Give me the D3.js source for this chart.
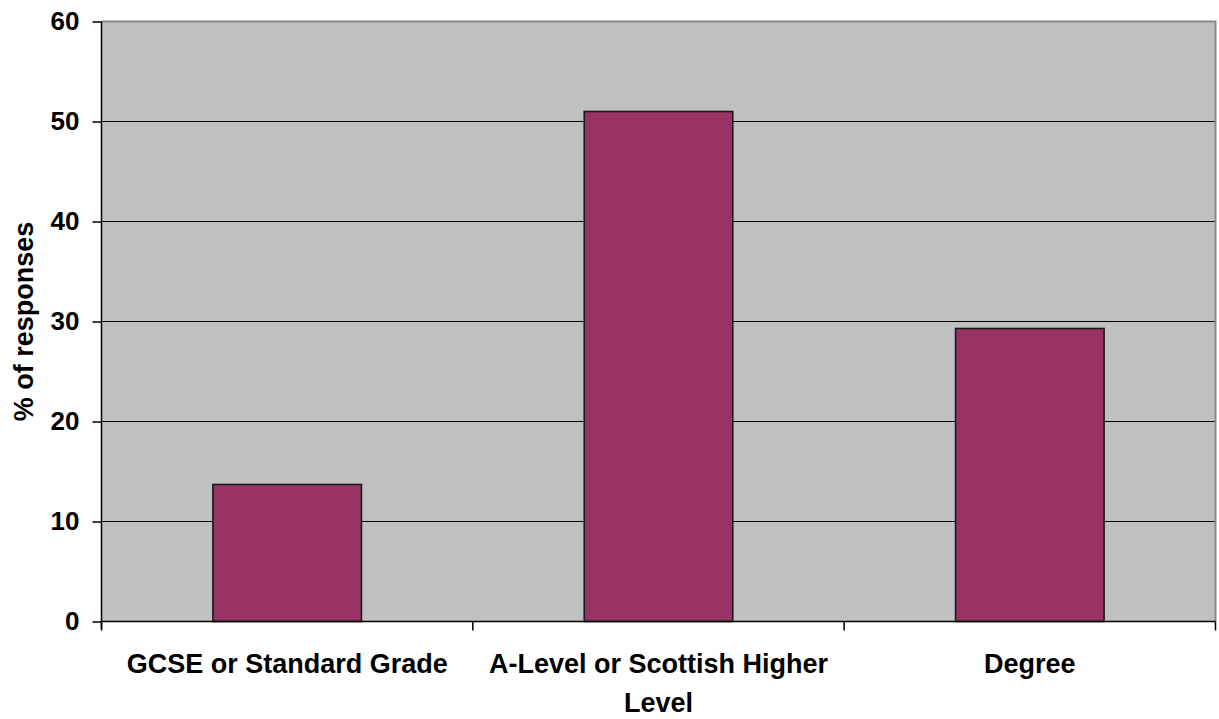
<!DOCTYPE html>
<html>
<head>
<meta charset="utf-8">
<script src="https://cdn.jsdelivr.net/npm/d3@7"></script>
<style>
  html, body { margin: 0; padding: 0; background: #ffffff; }
  svg { display: block; }
  text { font-family: "Liberation Sans", Arial, sans-serif; font-weight: bold; fill: #000; }
</style>
</head>
<body>
<svg id="chart" width="1219" height="719"></svg>
<script>
const categories = ["GCSE or Standard Grade", "A-Level or Scottish Higher", "Degree"];
const values = [13.7, 51.0, 29.3];
const yTicks = [0, 10, 20, 30, 40, 50, 60];
const xTitle = "Level";
const yTitle = "% of responses";

const svg = d3.select("#chart");
const pLeft = 101.5, pRight = 1215.5, pTop = 21.5, pBottom = 621.5;

const x = d3.scaleBand().domain(categories).range([pLeft, pRight]).paddingInner(0).paddingOuter(0);
const y = d3.scaleLinear().domain([0, 60]).range([pBottom, pTop]);

// plot background
svg.append("rect")
  .attr("x", pLeft).attr("y", pTop)
  .attr("width", pRight - pLeft).attr("height", pBottom - pTop)
  .attr("fill", "#c0c0c0");

// gridlines
svg.append("g").selectAll("line")
  .data(yTicks.filter(d => d > 0 && d < 60))
  .join("line")
  .attr("x1", pLeft).attr("x2", pRight)
  .attr("y1", d => y(d)).attr("y2", d => y(d))
  .attr("stroke", "#000").attr("stroke-width", 1.2);

// plot border top/right
svg.append("path")
  .attr("d", `M${pLeft},${pTop}H${pRight}V${pBottom}`)
  .attr("fill", "none").attr("stroke", "#8a8a8a").attr("stroke-width", 2);

// bars
const bw = x.bandwidth() * 0.4;
svg.append("g").selectAll("rect")
  .data(categories)
  .join("rect")
  .attr("x", d => x(d) + (x.bandwidth() - bw) / 2)
  .attr("y", (d, i) => y(values[i]))
  .attr("width", bw)
  .attr("height", (d, i) => y(0) - y(values[i]))
  .attr("fill", "#993366")
  .attr("stroke", "#1a1a1a").attr("stroke-width", 1.6);

// y axis
const yAxis = d3.axisLeft(y).tickValues(yTicks).tickSize(9).tickPadding(13).tickFormat(d3.format("d"));
const gy = svg.append("g").attr("transform", `translate(${pLeft},0)`).call(yAxis);
gy.select(".domain").attr("stroke", "#000").attr("stroke-width", 1.5).attr("d", `M0,${pBottom + 7}V${pTop}`);
gy.selectAll(".tick line").attr("stroke", "#000").attr("stroke-width", 1.5);
gy.selectAll(".tick text").style("font-size", "26px").style("font-family", "'Liberation Sans', Arial, sans-serif").style("font-weight", "bold").attr("fill", "#000");

// x axis
const gx = svg.append("g").attr("transform", `translate(0,${pBottom})`);
gx.append("line").attr("x1", pLeft).attr("x2", pRight).attr("y1", 0).attr("y2", 0)
  .attr("stroke", "#000").attr("stroke-width", 1.5);
const boundaries = categories.map(c => x(c)).concat([x(categories[categories.length - 1]) + x.bandwidth()]);
gx.selectAll("line.tk").data(boundaries).join("line").attr("class", "tk")
  .attr("x1", d => d).attr("x2", d => d).attr("y1", 0).attr("y2", 9)
  .attr("stroke", "#000").attr("stroke-width", 1.5);
gx.selectAll("text.cat").data(categories).join("text").attr("class", "cat")
  .attr("x", d => x(d) + x.bandwidth() / 2)
  .attr("y", 51)
  .attr("text-anchor", "middle")
  .style("font-size", "27px")
  .text(d => d);

// titles
svg.append("text")
  .attr("x", (pLeft + pRight) / 2).attr("y", 712)
  .attr("text-anchor", "middle").style("font-size", "27px")
  .text(xTitle);
svg.append("text")
  .attr("transform", `translate(33,${(pTop + pBottom) / 2}) rotate(-90)`)
  .attr("text-anchor", "middle").style("font-size", "27px")
  .text(yTitle);
</script>
</body>
</html>
